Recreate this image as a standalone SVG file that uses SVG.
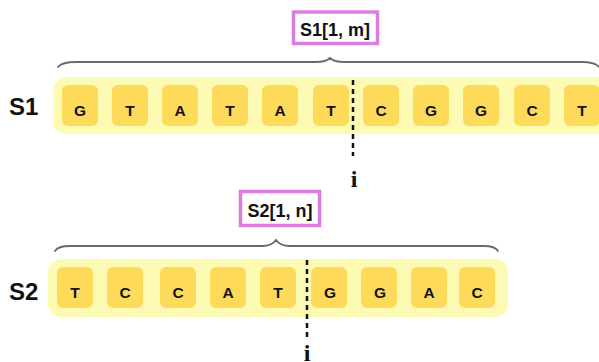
<svg xmlns="http://www.w3.org/2000/svg" width="599" height="362" viewBox="0 0 599 362">
  <style>
    .bar { fill: #FDFBB3; }
    .cell { fill: #FDDA5A; }
    .base { font-family: "Liberation Sans", Arial, sans-serif; font-weight: bold; font-size: 15.5px; fill: #111; text-anchor: middle; }
    .rowname { font-family: "Liberation Sans", Arial, sans-serif; font-weight: bold; font-size: 24px; fill: #111; }
    .range { fill: #fff; stroke: #DA7FE0; stroke-width: 3.5; }
    .rangetxt { font-family: "Liberation Sans", Arial, sans-serif; font-weight: bold; font-size: 18px; fill: #111; text-anchor: middle; }
    .brace { fill: none; stroke: #6a6a6a; stroke-width: 1.8; stroke-linecap: round; }
    .cut { stroke: #111; stroke-width: 2.5; stroke-dasharray: 5 4; }
    .idx { font-family: "Liberation Serif", "Times New Roman", serif; font-weight: bold; font-size: 24px; fill: #111; text-anchor: middle; }
  </style>
  <defs>
    <rect id="cellshape" class="cell" width="36" height="41" rx="6"/>
  </defs>

  <!-- sequence S1 -->
  <g id="s1">
    <text class="rowname" x="9" y="115">S1</text>
    <rect class="bar" x="53" y="77" width="570" height="57" rx="13"/>
    <g id="s1-cells">
      <use href="#cellshape" x="62" y="85"/>
      <use href="#cellshape" x="112" y="85"/>
      <use href="#cellshape" x="162" y="85"/>
      <use href="#cellshape" x="212" y="85"/>
      <use href="#cellshape" x="262" y="85"/>
      <use href="#cellshape" x="313" y="85"/>
      <use href="#cellshape" x="363" y="85"/>
      <use href="#cellshape" x="413" y="85"/>
      <use href="#cellshape" x="463" y="85"/>
      <use href="#cellshape" x="514" y="85"/>
      <use href="#cellshape" x="564" y="85"/>
    </g>
    <g id="s1-bases">
      <text class="base" x="80" y="116">G</text>
      <text class="base" x="130" y="116">T</text>
      <text class="base" x="180" y="116">A</text>
      <text class="base" x="230" y="116">T</text>
      <text class="base" x="280" y="116">A</text>
      <text class="base" x="331" y="116">T</text>
      <text class="base" x="381" y="116">C</text>
      <text class="base" x="431" y="116">G</text>
      <text class="base" x="481" y="116">G</text>
      <text class="base" x="532" y="116">C</text>
      <text class="base" x="582" y="116">T</text>
    </g>
  </g>

  <!-- range label S1[1, m] -->
  <g id="s1-range">
    <rect class="range" x="293.5" y="12" width="84" height="31.5"/>
    <text class="rangetxt" x="335" y="36">S1[1, m]</text>
  </g>

  <!-- sequence S2 -->
  <g id="s2">
    <text class="rowname" x="9" y="300">S2</text>
    <rect class="bar" x="48" y="259" width="460" height="58" rx="13"/>
    <g id="s2-cells">
      <use href="#cellshape" x="57" y="267"/>
      <use href="#cellshape" x="107" y="267"/>
      <use href="#cellshape" x="160" y="267"/>
      <use href="#cellshape" x="210" y="267"/>
      <use href="#cellshape" x="260" y="267"/>
      <use href="#cellshape" x="311" y="267"/>
      <use href="#cellshape" x="361" y="267"/>
      <use href="#cellshape" x="411" y="267"/>
      <use href="#cellshape" x="459" y="267"/>
    </g>
    <g id="s2-bases">
      <text class="base" x="75" y="298">T</text>
      <text class="base" x="125" y="298">C</text>
      <text class="base" x="178" y="298">C</text>
      <text class="base" x="228" y="298">A</text>
      <text class="base" x="278" y="298">T</text>
      <text class="base" x="330" y="298">G</text>
      <text class="base" x="380" y="298">G</text>
      <text class="base" x="429" y="298">A</text>
      <text class="base" x="477" y="298">C</text>
    </g>
  </g>

  <!-- range label S2[1, n] -->
  <g id="s2-range">
    <rect class="range" x="240.5" y="191.5" width="79" height="34"/>
    <text class="rangetxt" x="280" y="217">S2[1, n]</text>
  </g>

  <!-- braces and split markers -->
  <g id="connectors">
    <path class="brace" d="M58,67 Q62,62 76,62 L316,62 Q326,62 330,58 Q334,62 344,62 L582,62 Q595,62 599,67"/>
    <path class="brace" d="M55,251 Q58,246 70,246 L262,246 Q272,246 276,240 Q280,246 290,246 L484,246 Q495,246 498,251"/>
    <line class="cut" x1="353" y1="80" x2="353" y2="156"/>
    <line class="cut" x1="307" y1="260" x2="307" y2="340"/>
  </g>

  <!-- split indices -->
  <g id="index-i">
    <text class="idx" x="354" y="187">i</text>
  </g>
  <g id="index-j">
    <text class="idx" x="307" y="361">i</text>
  </g>
</svg>
